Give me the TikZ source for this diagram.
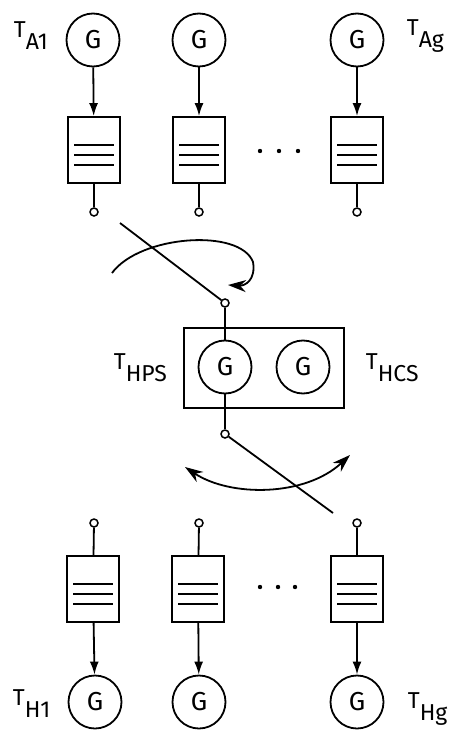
\documentclass[tikz,border=0pt]{standalone}
\usepackage{fontspec}
\setmainfont{Fira Sans}
\usetikzlibrary{arrows.meta, positioning}
\newcommand{\Tlab}[1]{T\raisebox{-12pt}{#1}}

\begin{document}
\begin{tikzpicture}[x=1pt, y=-1pt, line width=1.8pt,
    gen/.style  ={circle, draw, minimum size=53pt, inner sep=0pt, font=\fontsize{26}{30}\selectfont},
    buf/.style  ={rectangle, draw, minimum width=52pt, minimum height=66pt,
                  path picture={\foreach \dy in {-5,5,15}
                    \draw ([xshift=6pt, yshift=-\dy pt]path picture bounding box.west) -- ([xshift=-6pt, yshift=-\dy pt]path picture bounding box.east);}},
    term/.style ={circle, draw, fill=white, minimum size=8pt, inner sep=0pt, line width=1.5pt},
    feed/.style ={-{Latex[length=13pt, width=9pt]}},
    swing/.style={-{Stealth[length=18pt, width=12pt]}},
    lbl/.style  ={anchor=base west, inner sep=0pt, font=\fontsize{23}{27}\selectfont}
]
\useasboundingbox (0,0) rectangle (449,730);

% --- arriving side: generators, buffers, terminals ---
\node[gen] (ga1) at (93,40)  {G};
\node[gen] (ga2) at (199,40) {G};
\node[gen] (gag) at (357,40) {G};
\node[buf] (ba1) at (94,150)  {};
\node[buf] (ba2) at (199,150) {};
\node[buf] (bag) at (357,150) {};
\node[term] (ta1) at (94,212)  {};
\node[term] (ta2) at (199,212) {};
\node[term] (tag) at (357,212) {};
\foreach \g/\b/\t in {ga1/ba1/ta1, ga2/ba2/ta2, gag/bag/tag} {
  \draw[feed] (\g) -- (\b);
  \draw (\b) -- (\t);
}
\foreach \x in {260,279,298} \fill (\x,151) circle (2.2);
\node[lbl] (la1) at (13,38)  {\Tlab{A1}};
\node[lbl] (lag) at (406,36) {\Tlab{Ag}};

% --- input switch ---
\node[term] (tin) at (225,303) {};
\coordinate (swa) at (120,223);
\draw (swa) -- (tin);
\coordinate (ca1) at (112,273);
\coordinate (ca2) at (228,285);
\draw[swing] (ca1) .. controls (140,235) and (240,228) .. (253,262) .. controls (256,280) and (245,286) .. (ca2);

% --- service station ---
\node[rectangle, draw, minimum width=160pt, minimum height=80pt] (hbox) at (264,368) {};
\node[gen] (hps) at (225,367) {G};
\node[gen] (hcs) at (303,367) {G};
\draw (tin) -- (hps);
\node[lbl] (lhps) at (113,369) {\Tlab{HPS}};
\node[lbl] (lhcs) at (365,369) {\Tlab{HCS}};

% --- output switch ---
\node[term] (tout) at (225,434) {};
\draw (hps) -- (tout);
\coordinate (swb) at (333,513);
\draw (tout) -- (swb);
\coordinate (cb1) at (185,467);
\coordinate (cb2) at (350,455);
\draw[{Stealth[length=18pt, width=12pt]}-{Stealth[length=18pt, width=12pt]}] (cb1) .. controls (230,497) and (305,497) .. (cb2);

% --- departing side ---
\node[term] (th1) at (94,523)  {};
\node[term] (th2) at (199,523) {};
\node[term] (thg) at (357,523) {};
\node[buf] (bh1) at (93,589)  {};
\node[buf] (bh2) at (198,589) {};
\node[buf] (bhg) at (357,589) {};
\node[gen] (gh1) at (95,702)  {G};
\node[gen] (gh2) at (199,702) {G};
\node[gen] (ghg) at (357,702) {G};
\foreach \t/\b/\g in {th1/bh1/gh1, th2/bh2/gh2, thg/bhg/ghg} {
  \draw (\t) -- (\b);
  \draw[feed] (\b) -- (\g);
}
\foreach \x in {260,278,295} \fill (\x,587) circle (2.2);
\node[lbl] (lh1) at (12,705)  {\Tlab{H1}};
\node[lbl] (lhg) at (407,708) {\Tlab{Hg}};
\end{tikzpicture}
\end{document}
